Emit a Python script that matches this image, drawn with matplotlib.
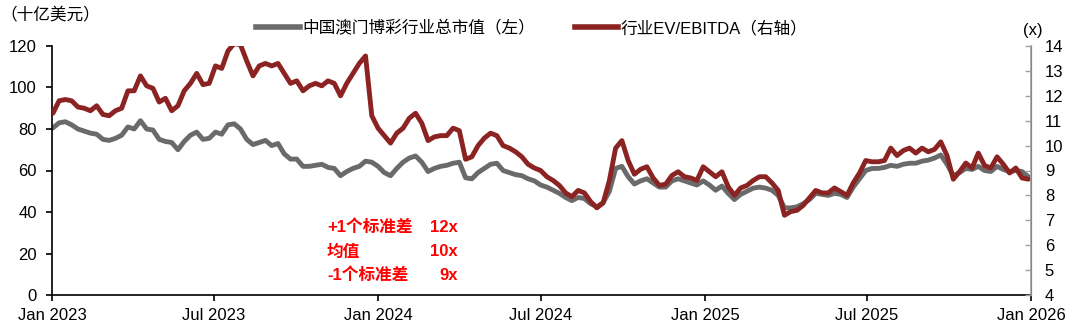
import matplotlib
matplotlib.use("Agg")
import matplotlib.pyplot as plt
import matplotlib.dates as mdates
import pandas as pd
from matplotlib.lines import Line2D

plt.rcParams['font.family'] = ['Liberation Sans', 'Noto Sans CJK SC']
plt.rcParams['axes.unicode_minus'] = False

# Weekly observations (Mondays) from 2023-01-02 to 2025-12-29
dates = pd.date_range('2023-01-02', periods=157, freq='7D')

market_cap = [
    80.5, 83, 83.5, 82, 80, 79, 78, 77.5, 75, 74.5,
    75.5, 77, 81, 80, 84, 80, 79.5, 75, 74, 73.5,
    70, 74, 77, 78.5, 75, 75.5, 78.5, 77.5, 82, 82.5,
    80, 75, 72.5, 73.5, 74.5, 72, 73, 68, 65.5, 65.5,
    62, 62, 62.5, 63, 61.5, 61, 57.5, 59.5, 61, 62,
    64.5, 64, 62, 59, 57.5, 61, 64, 66, 67, 64,
    59.5, 61, 62, 62.5, 63.5, 64, 56.5, 56, 59, 61,
    63, 63.5, 60, 59, 58, 57.5, 56, 55, 53, 52,
    50.5, 49, 47, 45.5, 47, 46.5, 44, 42.5, 44.5, 50,
    61, 62, 57, 53.5, 55, 56, 54, 52, 52, 55,
    56, 55, 54, 53, 55, 53, 50.5, 52.5, 49, 46,
    48.5, 50, 51.5, 52, 51.5, 50.5, 48, 42, 42, 42.5,
    44, 46, 49, 48.5, 48, 49, 48.5, 47, 52, 56,
    60, 61, 61, 61.5, 62.5, 62, 63, 63.5, 63.5, 64.5,
    65, 66, 67.5, 63, 57.5, 59, 61, 60.5, 62, 60,
    59.5, 62, 60.5, 59.5, 60, 59.5, 57,
]

ev_ebitda = [
    11.3, 11.8, 11.85, 11.8, 11.55, 11.5, 11.4, 11.6, 11.25, 11.2,
    11.4, 11.5, 12.2, 12.2, 12.8, 12.4, 12.3, 11.75, 11.9, 11.4,
    11.6, 12.2, 12.5, 12.9, 12.45, 12.5, 13.2, 13.1, 13.8, 14.1,
    14.05, 13.4, 12.8, 13.2, 13.3, 13.2, 13.3, 12.9, 12.5, 12.6,
    12.2, 12.4, 12.5, 12.4, 12.6, 12.5, 12.0, 12.5, 12.9, 13.3,
    13.6, 11.2, 10.7, 10.4, 10.1, 10.5, 10.7, 11.1, 11.3, 10.9,
    10.2, 10.35, 10.4, 10.4, 10.7, 10.6, 9.45, 9.55, 10.0, 10.3,
    10.5, 10.4, 10.0, 9.9, 9.75, 9.55, 9.25, 9.1, 9.0, 8.75,
    8.6, 8.4, 8.1, 7.95, 8.2, 8.1, 7.75, 7.5, 7.7, 8.6,
    9.9, 10.2, 9.4, 8.85, 9.05, 9.15, 8.7, 8.4, 8.45, 8.8,
    8.95, 8.75, 8.7, 8.6, 9.15, 8.95, 8.75, 8.95, 8.35, 8.0,
    8.3, 8.4, 8.6, 8.75, 8.75, 8.5, 8.2, 7.2, 7.35, 7.4,
    7.6, 7.9, 8.2, 8.1, 8.1, 8.3, 8.15, 8.0, 8.5, 8.9,
    9.4, 9.35, 9.35, 9.4, 9.9, 9.6, 9.8, 9.9, 9.7, 9.9,
    9.75, 9.85, 10.15, 9.6, 8.65, 8.95, 9.3, 9.1, 9.7, 9.2,
    9.1, 9.55, 9.25, 8.9, 9.1, 8.7, 8.65,
]

legend_labels = ['中国澳门博彩行业总市值（左）', '行业EV/EBITDA（右轴）']
stat_labels = ['+1个标准差', '均值', '-1个标准差']
stat_values = ['12x', '10x', '9x']

GRAY = '#6a6a6a'
RED = '#8b2323'
FS = 12

fig = plt.figure(figsize=(10.8, 3.27), dpi=100)
ax = fig.add_axes([52/1080, 32/327, (1031-52)/1080, (295-46)/327])
ax2 = ax.twinx()

ax.plot(dates, market_cap, color=GRAY, lw=3.5, solid_capstyle='round', solid_joinstyle='round')
ax2.plot(dates, ev_ebitda, color=RED, lw=3.5, solid_capstyle='round', solid_joinstyle='round')

ax.set_xlim(pd.Timestamp('2023-01-01'), pd.Timestamp('2026-01-01'))
ax.set_ylim(0, 120)
ax.set_yticks(range(0, 121, 20))
ax2.set_ylim(4, 14)
ax2.set_yticks(range(4, 15))

ax.xaxis.set_major_locator(mdates.MonthLocator(bymonth=[1, 7]))
ax.xaxis.set_major_formatter(mdates.DateFormatter('%b %Y'))

for a in (ax, ax2):
    a.spines['top'].set_visible(False)
ax.spines['left'].set_color('black')
ax.spines['bottom'].set_color('black')
ax.spines['left'].set_linewidth(1.2)
ax.spines['bottom'].set_linewidth(1.2)
ax2.spines['left'].set_visible(False)
ax2.spines['bottom'].set_visible(False)
ax2.spines['right'].set_color('#a0a0a0')
ax2.spines['right'].set_linewidth(1.2)

ax.tick_params(axis='y', direction='out', length=4, width=1.2, labelsize=FS, pad=7)
ax.tick_params(axis='x', direction='out', length=4, width=1.2, labelsize=FS, pad=5)
ax2.tick_params(axis='y', direction='in', length=4, width=1, color='#a0a0a0', labelsize=FS, pad=10)

fig.text(50/1080, 1 - 15/327, '（十亿美元）', ha='center', va='center', fontsize=FS)
fig.text(1033/1080, 1 - 30/327, '(x)', ha='center', va='center', fontsize=FS)

handles = [Line2D([], [], color=GRAY, lw=4), Line2D([], [], color=RED, lw=4)]
fig.legend(handles, legend_labels, loc='center', bbox_to_anchor=(532/1080, 1 - 28/327),
           ncol=2, frameon=False, fontsize=FS, handlelength=2.6, handletextpad=0.15,
           columnspacing=2.4)

rows_y = [227, 252, 275]
for lab, val, yy in zip(stat_labels, stat_values, rows_y):
    fig.text(327/1080, 1 - yy/327, lab, ha='left', va='center', fontsize=FS,
             fontweight='bold', color='#ff0000')
    fig.text(458/1080, 1 - yy/327, val, ha='right', va='center', fontsize=FS,
             fontweight='bold', color='#ff0000')

fig.savefig('out.png', dpi=100)
